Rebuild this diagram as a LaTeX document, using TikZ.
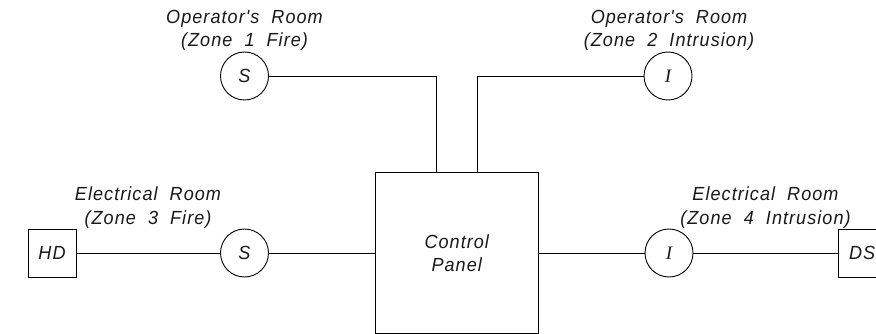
\documentclass[tikz,border=0pt]{standalone}
\usepackage{fontspec}
\setmainfont{Liberation Sans}
\newfontfamily\cadfont[LetterSpace=5.5,WordSpace=2,FakeStretch=0.95]{Liberation Sans}
\newfontfamily\cadserif{Liberation Serif}
\tikzset{
  line/.style={draw=black,line width=0.9pt},
  device/.style={line,circle,minimum size=48pt,inner sep=0pt},
  boxdev/.style={line,rectangle,minimum size=48pt,inner sep=0pt},
  panelbox/.style={line,rectangle,minimum width=162.5pt,minimum height=161pt,inner sep=0pt},
  cad/.style={font=\cadfont\itshape\fontsize{19}{23.5}\selectfont,align=center,inner sep=0pt,text=black!90}
}
\begin{document}
\begin{tikzpicture}[x=1pt,y=-1pt]
\clip (0,0) rectangle (876,334);
\fill[white] (0,0) rectangle (876,334);
\node[panelbox] (panel) at (456.75,252.5) {};
\node[cad] (paneltext) at (456.75,253) {Control\\Panel};
\coordinate (pa) at (436.5,172);
\coordinate (pb) at (477,172);
\node[device,cad] (s1) at (244.5,76) {S};
\node[device,cad] (i2) at (668,76) {\cadserif\itshape I};
\node[device,cad] (s3) at (244.5,253) {S};
\node[device,cad] (i4) at (669,253) {\cadserif\itshape I};
\node[boxdev,cad] (hd) at (52,253) {HD};
\node[boxdev,cad,text width=48pt,align=left] (ds) at (862,253) {\hspace*{11pt}DS};
\draw[line] (s1) -| (pa);
\draw[line] (i2) -| (pb);
\draw[line] (hd) -- (s3);
\draw[line] (s3) -- (s3-|panel.west);
\draw[line] (i4-|panel.east) -- (i4);
\draw[line] (i4) -- (ds);
\node[cad] (t1) at (244.5,30.5) {Operator's Room\\(Zone 1 Fire)};
\node[cad] (t2) at (669,30.5) {Operator's Room\\(Zone 2 Intrusion)};
\node[cad] (t3) at (148,207.5) {Electrical Room\\(Zone 3 Fire)};
\node[cad] (t4) at (765.5,207.5) {Electrical Room\\(Zone 4 Intrusion)};
\end{tikzpicture}
\end{document}
